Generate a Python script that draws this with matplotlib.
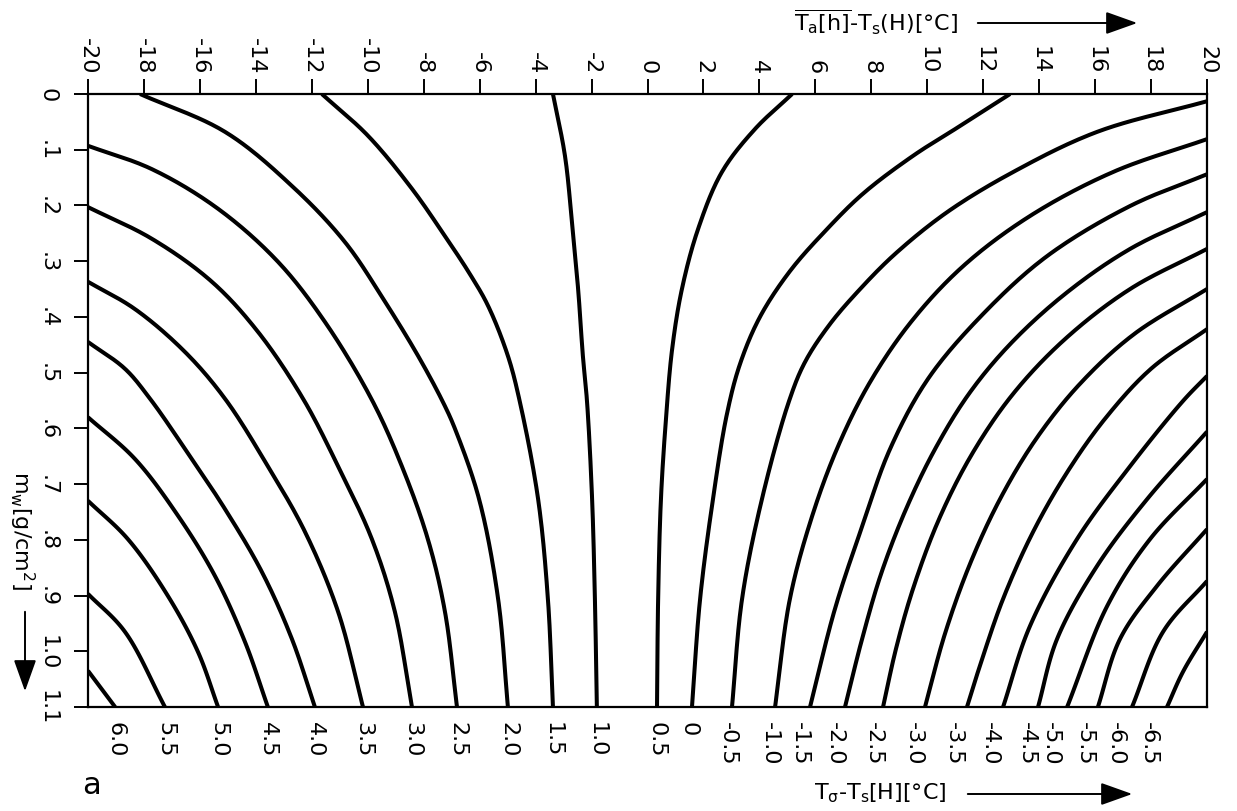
import numpy as np
import matplotlib
matplotlib.use("Agg")
import matplotlib.pyplot as plt
from matplotlib.patches import FancyArrowPatch

plt.rcParams['font.family'] = ['DejaVu Sans']
plt.rcParams['mathtext.default'] = 'regular'

# ---- data ----
top_ticks = list(range(-20, 21, 2))
left_ticks = [0, 0.1, 0.2, 0.3, 0.4, 0.5, 0.6, 0.7, 0.8, 0.9, 1.0, 1.1]
left_tick_labels = ["0", ".1", ".2", ".3", ".4", ".5", ".6", ".7", ".8", ".9", "1.0", "1.1"]

contour_levels = ["6.0", "5.5", "5.0", "4.5", "4.0", "3.5", "3.0", "2.5", "2.0", "1.5",
                  "1.0", "0.5", "0", "-0.5", "-1.0", "-1.5", "-2.0", "-2.5", "-3.0",
                  "-3.5", "-4.0", "-4.5", "-5.0", "-5.5", "-6.0", "-6.5"]

# Ta(h)-Ts(H) coordinates of each isoline
contour_dT = [
    [-20, -19.03],
    [-20, -18.68, -17.25],
    [-20, -18.57, -17.14, -16.07, -15.35],
    [-20, -18.32, -16.78, -15.46, -14.39, -13.57],
    [-20, -18.68, -17.78, -16.53, -15.10, -13.78, -12.71, -11.89],
    [-20, -18.32, -16.53, -15.10, -13.57, -12.24, -11.06, -10.17],
    [-20, -17.71, -15.57, -13.92, -12.31, -11.06, -9.85, -9.03, -8.42],
    [-20, -17.71, -15.35, -13.21, -11.53, -9.85, -8.78, -7.85, -7.24, -6.81],
    [-18.14, -15.10, -12.71, -10.81, -9.38, -8.20, -7.31, -6.88, -6.02, -5.34, -4.99],
    [-11.64, -9.99, -8.42, -7.24, -6.35, -5.70, -4.99, -4.56, -3.91, -3.56, -3.38],
    [-3.38, -2.95, -2.70, -2.48, -2.31, -2.16, -1.98, -1.88, -1.81],
    [5.17, 3.84, 2.66, 1.81, 1.23, 0.88, 0.66, 0.48, 0.38, 0.34],
    [12.96, 11.28, 9.49, 7.70, 6.35, 5.09, 4.02, 3.31, 2.84, 2.34, 1.88, 1.59],
    [20, 16.07, 13.07, 10.71, 8.85, 7.60, 6.52, 5.63, 5.06, 4.09, 3.38, 3.02],
    [20, 16.64, 13.67, 11.28, 9.42, 7.92, 6.77, 5.85, 5.09, 4.56],
    [20, 17.25, 14.28, 11.99, 10.03, 8.67, 7.70, 6.70, 5.81],
    [20, 17.25, 14.92, 12.96, 11.49, 10.28, 9.24, 8.35, 7.67, 7.06],
    [20, 17.25, 14.92, 13.07, 11.60, 10.42, 9.49, 8.88, 8.42],
    [20, 17.39, 15.46, 13.89, 12.60, 11.53, 10.63, 9.92],
    [20, 18.00, 16.35, 14.96, 13.74, 12.71, 11.96, 11.42],
    [20, 19.14, 17.25, 15.35, 13.67, 12.71],
    [20, 17.86, 16.07, 14.64, 13.96],
    [20, 17.96, 16.43, 15.00],
    [20, 18.21, 16.89, 16.10],
    [20, 18.43, 17.32],
    [20, 19.14, 18.57],
]

# m_w coordinates of each isoline
contour_mw = [
    [1.035, 1.1],
    [0.897, 0.965, 1.1],
    [0.730, 0.799, 0.901, 1.001, 1.1],
    [0.580, 0.655, 0.757, 0.865, 0.983, 1.1],
    [0.445, 0.493, 0.547, 0.637, 0.745, 0.858, 0.978, 1.1],
    [0.337, 0.386, 0.463, 0.547, 0.668, 0.786, 0.929, 1.1],
    [0.203, 0.260, 0.337, 0.427, 0.547, 0.668, 0.799, 0.929, 1.1],
    [0.093, 0.135, 0.206, 0.301, 0.409, 0.549, 0.668, 0.799, 0.929, 1.1],
    [0.0, 0.068, 0.165, 0.266, 0.373, 0.470, 0.553, 0.601, 0.727, 0.906, 1.1],
    [0.0, 0.075, 0.170, 0.255, 0.323, 0.380, 0.470, 0.553, 0.727, 0.906, 1.1],
    [0.0, 0.111, 0.230, 0.350, 0.470, 0.553, 0.727, 0.906, 1.1],
    [0.0, 0.063, 0.140, 0.242, 0.350, 0.458, 0.583, 0.727, 0.906, 1.1],
    [0.0, 0.054, 0.111, 0.179, 0.246, 0.318, 0.400, 0.484, 0.574, 0.727, 0.906, 1.1],
    [0.013, 0.068, 0.140, 0.212, 0.287, 0.350, 0.413, 0.481, 0.551, 0.727, 0.906, 1.1],
    [0.081, 0.140, 0.219, 0.309, 0.409, 0.520, 0.637, 0.763, 0.906, 1.1],
    [0.144, 0.201, 0.291, 0.395, 0.511, 0.637, 0.772, 0.924, 1.1],
    [0.212, 0.278, 0.359, 0.449, 0.538, 0.637, 0.745, 0.861, 0.978, 1.1],
    [0.278, 0.350, 0.440, 0.538, 0.646, 0.763, 0.888, 0.996, 1.1],
    [0.350, 0.431, 0.520, 0.619, 0.727, 0.843, 0.969, 1.1],
    [0.422, 0.493, 0.583, 0.682, 0.790, 0.906, 1.014, 1.1],
    [0.506, 0.551, 0.668, 0.799, 0.955, 1.1],
    [0.606, 0.727, 0.847, 0.978, 1.1],
    [0.691, 0.799, 0.919, 1.1],
    [0.781, 0.883, 0.978, 1.1],
    [0.874, 0.965, 1.1],
    [0.965, 1.037, 1.1],
]


def centripetal_path(xs, ys, sx, sy, n=24, alpha=0.5):
    """Smooth drawing path (centripetal Catmull-Rom) through the digitised points.
    sx, sy: display scale of one data unit, so the curve is parameterised on screen."""
    P = np.column_stack([np.asarray(xs, float) * sx, np.asarray(ys, float) * sy])
    if len(P) < 3:
        return P[:, 0] / sx, P[:, 1] / sy
    P = np.vstack([2 * P[0] - P[1], P, 2 * P[-1] - P[-2]])
    out = []
    for i in range(1, len(P) - 2):
        p0, p1, p2, p3 = P[i - 1], P[i], P[i + 1], P[i + 2]
        t0 = 0.0
        t1 = t0 + np.linalg.norm(p1 - p0) ** alpha
        t2 = t1 + np.linalg.norm(p2 - p1) ** alpha
        t3 = t2 + np.linalg.norm(p3 - p2) ** alpha
        t = np.linspace(t1, t2, n, endpoint=False)[:, None]
        a1 = (t1 - t) / (t1 - t0) * p0 + (t - t0) / (t1 - t0) * p1
        a2 = (t2 - t) / (t2 - t1) * p1 + (t - t1) / (t2 - t1) * p2
        a3 = (t3 - t) / (t3 - t2) * p2 + (t - t2) / (t3 - t2) * p3
        b1 = (t2 - t) / (t2 - t0) * a1 + (t - t0) / (t2 - t0) * a2
        b2 = (t3 - t) / (t3 - t1) * a2 + (t - t1) / (t3 - t1) * a3
        out.append((t2 - t) / (t2 - t1) * b1 + (t - t1) / (t2 - t1) * b2)
    out.append(P[-2][None, :])
    S = np.vstack(out)
    return S[:, 0] / sx, S[:, 1] / sy


W, H = 1237, 812
fig = plt.figure(figsize=(W / 100, H / 100), dpi=100)
ax = fig.add_axes([88 / W, 1 - 708 / H, 1119 / W, 613 / H])
ax.set_xlim(-20, 20)
ax.set_ylim(1.1, 0)

# screen pixels per data unit (for parameterising the smooth drawing path)
px_per_x = 1119 / 40.0
px_per_y = 613 / 1.1

for xs, ys in zip(contour_dT, contour_mw):
    cx, cy = centripetal_path(xs, ys, px_per_x, px_per_y)
    ax.plot(cx, cy, color='black', lw=2.9, solid_capstyle='butt')

for s in ax.spines.values():
    s.set_linewidth(1.6)

ax.xaxis.tick_top()
ax.set_xticks(top_ticks)
ax.set_xticklabels([str(v) for v in top_ticks], rotation=-90, fontsize=16)
ax.tick_params(axis='x', direction='out', length=11, width=1.4, pad=4)

ax.set_yticks(left_ticks)
ax.set_yticklabels(left_tick_labels, rotation=-90, fontsize=16, va='center')
ax.tick_params(axis='y', direction='out', length=10, width=1.4, pad=12)

# contour value labels along the bottom edge; on the right-hand family they follow
# the slant of the isoline a little below the frame
for lab, xs, ys in zip(contour_levels, contour_dT, contour_mw):
    slope = ((xs[-1] - xs[-2]) * px_per_x) / ((ys[-1] - ys[-2]) * px_per_y)
    shift_pt = min(0.0, slope) * 40 * 0.72
    ax.annotate(lab, xy=(xs[-1], 1.1), xytext=(shift_pt, -10), textcoords='offset points',
                rotation=-90, ha='center', va='top', fontsize=16, annotation_clip=False)

# axis titles
fig.text(958 / W, 1 - 22 / H, r"$\overline{T_a[h]}$-T$_s$(H)[°C]", fontsize=16,
         ha='right', va='center')
fig.text(880 / W, 1 - 793 / H, r"T$_\sigma$-T$_s$[H][°C]", fontsize=16,
         ha='center', va='center')
fig.text(22 / W, 1 - 530 / H, r"m$_w$[g/cm$^2$]", fontsize=16, rotation=-90,
         ha='center', va='center')
fig.text(92 / W, 1 - 786 / H, "a", fontsize=22, ha='center', va='center')

arrow_kw = dict(arrowstyle='-|>,head_length=1.4,head_width=0.5', mutation_scale=14,
                color='black', lw=1.4, transform=fig.transFigure)
fig.patches.append(FancyArrowPatch((975 / W, 1 - 24 / H), (1140 / W, 1 - 24 / H), **arrow_kw))
fig.patches.append(FancyArrowPatch((965 / W, 1 - 795 / H), (1135 / W, 1 - 795 / H), **arrow_kw))
fig.patches.append(FancyArrowPatch((25 / W, 1 - 610 / H), (25 / W, 1 - 695 / H), **arrow_kw))

fig.savefig("out.png", dpi=100, facecolor='white')
